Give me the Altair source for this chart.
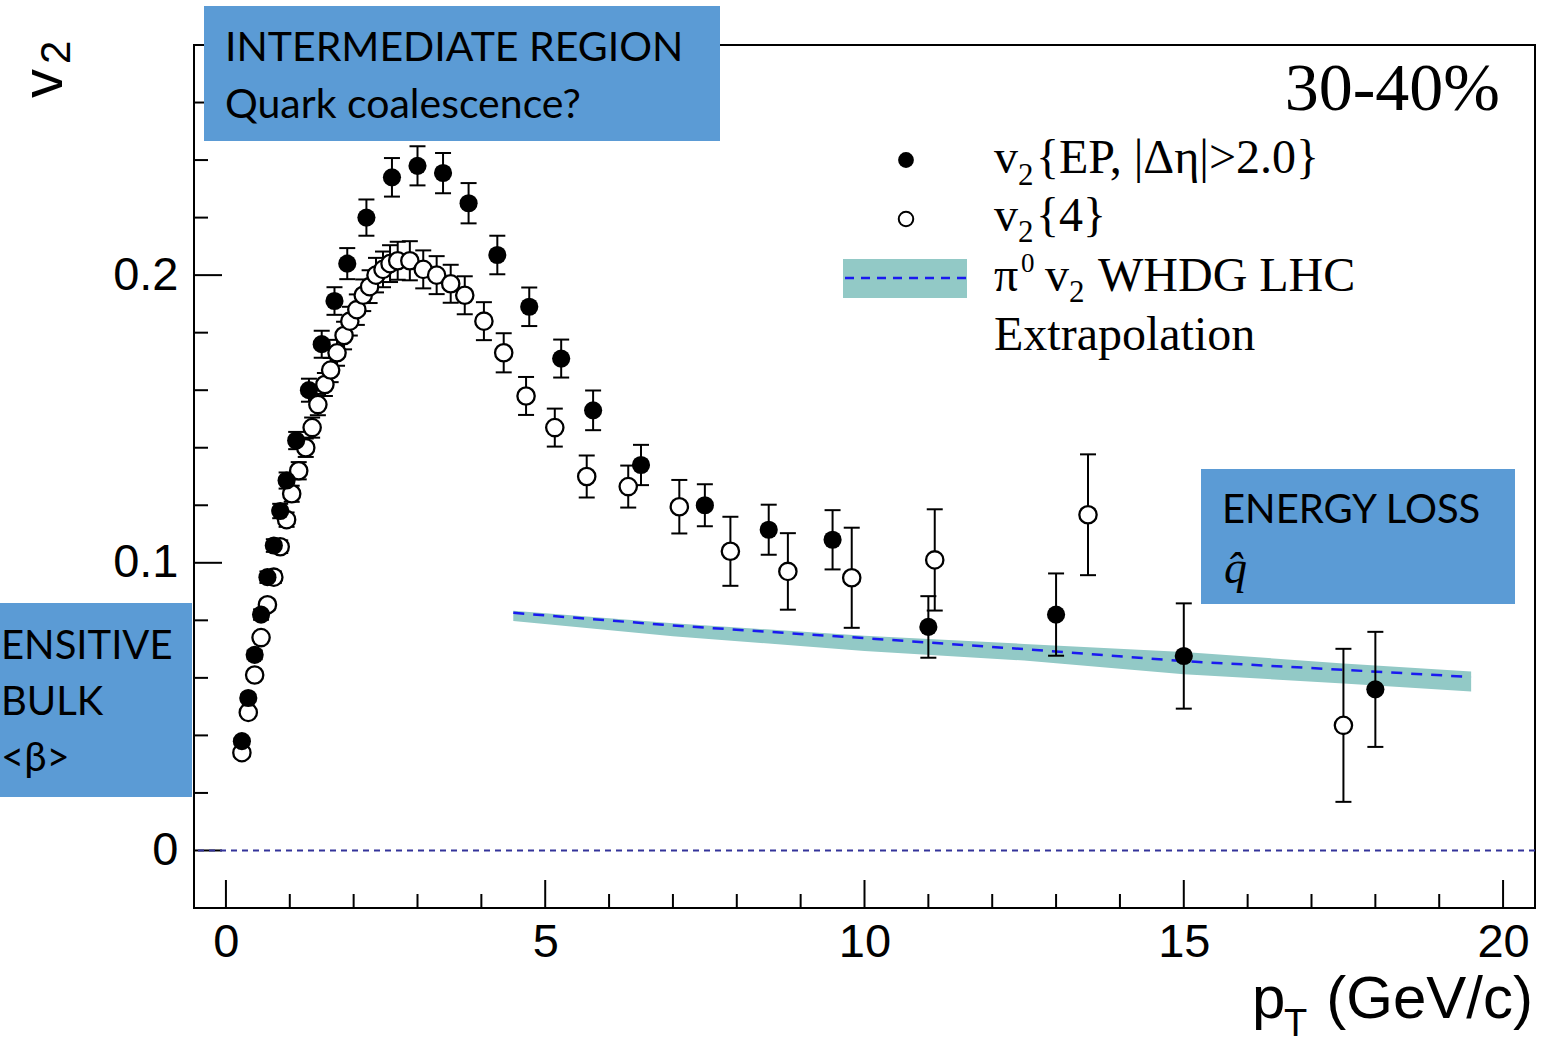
import altair as alt
import pandas as pd

# ---------------- data ----------------
# v2{EP, |d eta|>2.0}  (filled)
ep_pt = [0.25, 0.35, 0.45, 0.55, 0.65, 0.75, 0.85, 0.95, 1.1, 1.3, 1.5, 1.7, 1.9, 2.2,
         2.6, 3.0, 3.4, 3.8, 4.25, 4.75, 5.25, 5.75, 6.5, 7.5, 8.5, 9.5, 11.0, 13.0, 15.0, 18.0]
ep_v2 = [0.038, 0.053, 0.068, 0.082, 0.095, 0.106, 0.118, 0.1286, 0.1425, 0.160, 0.176, 0.191,
         0.204, 0.220, 0.234, 0.238, 0.2355, 0.225, 0.207, 0.189, 0.171, 0.153, 0.134, 0.120,
         0.1115, 0.108, 0.0777, 0.082, 0.0676, 0.056]
ep_err = [0.001, 0.0012, 0.0015, 0.0018, 0.002, 0.0022, 0.0025, 0.0028, 0.003, 0.004, 0.0047,
          0.0048, 0.0054, 0.0063, 0.0067, 0.0068, 0.007, 0.007, 0.0067, 0.0067, 0.0066, 0.0069,
          0.007, 0.0073, 0.0087, 0.0103, 0.0107, 0.0143, 0.0183, 0.020]

# v2{4}  (open)
c4_pt = [0.25, 0.35, 0.45, 0.55, 0.65, 0.75, 0.85, 0.95, 1.03, 1.14, 1.25, 1.35, 1.44, 1.55,
         1.64, 1.74, 1.85, 1.94, 2.05, 2.15, 2.25, 2.35, 2.46, 2.57, 2.69, 2.88, 3.09, 3.30,
         3.52, 3.74, 4.04, 4.35, 4.70, 5.15, 5.65, 6.3, 7.1, 7.9, 8.8, 9.8, 11.1, 13.5, 17.5]
c4_v2 = [0.034, 0.048, 0.061, 0.074, 0.0854, 0.095, 0.1056, 0.115, 0.124, 0.132, 0.140, 0.147,
         0.155, 0.162, 0.167, 0.173, 0.179, 0.184, 0.188, 0.193, 0.196, 0.200, 0.202, 0.204,
         0.205, 0.205, 0.202, 0.200, 0.197, 0.193, 0.184, 0.173, 0.158, 0.147, 0.130, 0.1265,
         0.1195, 0.104, 0.097, 0.0948, 0.101, 0.1167, 0.0435]
c4_err = [0.001, 0.0012, 0.0014, 0.0016, 0.0018, 0.002, 0.0022, 0.0025, 0.0028, 0.003, 0.0032,
          0.0035, 0.0037, 0.004, 0.0042, 0.0045, 0.0048, 0.005, 0.0053, 0.0055, 0.0057, 0.006,
          0.0062, 0.0064, 0.0066, 0.0068, 0.0066, 0.0066, 0.0066, 0.0066, 0.0066, 0.0068,
          0.0066, 0.0066, 0.0073, 0.0073, 0.0093, 0.012, 0.0133, 0.0174, 0.0176, 0.021, 0.0266]

# pi0 v2 WHDG LHC extrapolation
whdg_pt = [4.5, 7.0, 10.0, 12.5, 15.0, 17.5, 19.5]
whdg_lo = [0.0798, 0.0745, 0.0693, 0.0660, 0.0613, 0.0580, 0.0553]
whdg_hi = [0.0833, 0.0790, 0.0746, 0.0718, 0.0690, 0.0650, 0.0622]
whdg_mid = [0.0826, 0.0782, 0.0738, 0.0700, 0.0658, 0.0628, 0.0603]

x_major = [0, 5, 10, 15, 20]
x_minor = [1, 2, 3, 4, 6, 7, 8, 9, 11, 12, 13, 14, 16, 17, 18, 19]
y_major = [0, 0.1, 0.2]
y_minor = [0.02, 0.04, 0.06, 0.08, 0.12, 0.14, 0.16, 0.18, 0.22, 0.24, 0.26]

# ---------------- layout ----------------
W, H = 1341, 863
OX, OY = 194, 45
SANS = "Liberation Sans"
SERIF = "Liberation Serif"
BOXF = "Lato"
BLUEBOX = "#5b9bd5"
TEAL = "#92c9c6"

ep = pd.DataFrame({"pt": ep_pt, "v2": ep_v2,
                   "lo": [v - e for v, e in zip(ep_v2, ep_err)],
                   "hi": [v + e for v, e in zip(ep_v2, ep_err)]})
c4 = pd.DataFrame({"pt": c4_pt, "v2": c4_v2,
                   "lo": [v - e for v, e in zip(c4_v2, c4_err)],
                   "hi": [v + e for v, e in zip(c4_v2, c4_err)]})
wh = pd.DataFrame({"pt": whdg_pt, "lo": whdg_lo, "hi": whdg_hi, "mid": whdg_mid})
one = pd.DataFrame({"k": [0]})

xs = alt.Scale(domain=[-0.5, 20.5], nice=False, zero=False)
ys = alt.Scale(domain=[-0.02, 0.28], nice=False, zero=False)

xaxis = alt.Axis(values=x_major, tickSize=0, ticks=False, domain=False, grid=False,
                 labelFont=SANS, labelFontSize=47, labelColor="black", labelPadding=11,
                 title=None, labelFlush=False, labelOverlap=False)
yaxis = alt.Axis(values=y_major, tickSize=0, ticks=False, domain=False, grid=False,
                 labelFont=SANS, labelFontSize=47, labelColor="black", labelPadding=16,
                 title=None, format="~g", labelFlush=False, labelOverlap=False)


def X(f):
    return alt.X(f, type="quantitative", scale=xs, axis=xaxis)


def Y(f):
    return alt.Y(f, type="quantitative", scale=ys, axis=yaxis)


def T(s, x, y, size, font=SERIF, align="left", angle=None, style=None, color="black"):
    m = dict(text=s, fontSize=size, font=font, align=align, baseline="alphabetic", color=color)
    if angle is not None:
        m["angle"] = angle
    if style is not None:
        m["fontStyle"] = style
    return alt.Chart(one).mark_text(**m).encode(x=alt.value(x - OX), y=alt.value(y - OY))


def R(x1, y1, x2, y2, color):
    return alt.Chart(one).mark_rect(color=color, opacity=1).encode(
        x=alt.value(x1 - OX), x2=alt.value(x2 - OX), y=alt.value(y1 - OY), y2=alt.value(y2 - OY))


layers = []

# inward ticks (axes carry labels only)
layers.append(alt.Chart(pd.DataFrame({"v": x_major})).mark_rule(color="black", strokeWidth=2).encode(
    x=X("v"), y=alt.value(H), y2=alt.value(H - 28)))
layers.append(alt.Chart(pd.DataFrame({"v": x_minor})).mark_rule(color="black", strokeWidth=2).encode(
    x=X("v"), y=alt.value(H), y2=alt.value(H - 14)))
layers.append(alt.Chart(pd.DataFrame({"v": y_major})).mark_rule(color="black", strokeWidth=2).encode(
    y=Y("v"), x=alt.value(0), x2=alt.value(28)))
layers.append(alt.Chart(pd.DataFrame({"v": y_minor})).mark_rule(color="black", strokeWidth=2).encode(
    y=Y("v"), x=alt.value(0), x2=alt.value(14)))

# zero line
layers.append(alt.Chart(pd.DataFrame({"v": [0]})).mark_rule(
    color="#33339a", strokeWidth=2, strokeDash=[6, 5]).encode(y=Y("v")))

# WHDG band + dashed central line
layers.append(alt.Chart(wh).mark_area(color=TEAL, opacity=1).encode(x=X("pt"), y=Y("lo"), y2="hi:Q"))
layers.append(alt.Chart(wh).mark_line(color="#1a1af0", strokeWidth=2.5, strokeDash=[11, 9]).encode(
    x=X("pt"), y=Y("mid")))

# error bars
for df in (c4, ep):
    layers.append(alt.Chart(df).mark_rule(color="black", strokeWidth=2).encode(
        x=X("pt"), y=Y("lo"), y2="hi:Q"))
    for f in ("lo", "hi"):
        layers.append(alt.Chart(df).mark_tick(orient="horizontal", size=16, thickness=2,
                                              color="black", opacity=1).encode(x=X("pt"), y=Y(f)))

# points
layers.append(alt.Chart(c4).mark_circle(fill="white", stroke="black", strokeWidth=2.3,
                                        size=300, opacity=1).encode(x=X("pt"), y=Y("v2")))
layers.append(alt.Chart(ep).mark_circle(color="black", size=330, opacity=1).encode(
    x=X("pt"), y=Y("v2")))

# ---------------- legend ----------------
layers.append(alt.Chart(one).mark_circle(color="black", size=250, opacity=1).encode(
    x=alt.value(906 - OX), y=alt.value(160 - OY)))
layers.append(alt.Chart(one).mark_circle(fill="white", stroke="black", strokeWidth=2,
                                         size=210, opacity=1).encode(
    x=alt.value(906 - OX), y=alt.value(219 - OY)))
layers.append(R(843, 259, 967, 298, TEAL))
layers.append(alt.Chart(one).mark_rule(color="#1a1af0", strokeWidth=2.5, strokeDash=[9, 7]).encode(
    x=alt.value(845 - OX), x2=alt.value(967 - OX), y=alt.value(278 - OY)))

LS = 48
SUB = 31
layers += [
    T("v", 994, 173, LS), T("2", 1018, 185, SUB), T("{EP, |Δη|>2.0}", 1036, 173, LS),
    T("v", 994, 231, LS), T("2", 1018, 242, SUB), T("{4}", 1036, 231, LS),
    T("π", 994, 291, LS), T("0", 1021, 272, 27), T("v", 1045, 291, LS), T("2", 1069, 302, SUB),
    T("WHDG LHC", 1098, 291, LS),
    T("Extrapolation", 994, 350, LS),
    T("30-40%", 1500, 110, 68, align="right"),
]

# axis titles
layers += [
    T("v", 62, 98, 58, font=SANS, angle=270),
    T("2", 70, 64, 42, font=SANS, angle=270),
    T("p", 1252, 1018, 60, font=SANS),
    T("T", 1284, 1036, 38, font=SANS),
    T("(GeV/c)", 1533, 1018, 60, font=SANS, align="right"),
]

# ---------------- annotation boxes ----------------
layers += [
    R(204, 6, 720, 141, BLUEBOX),
    T("INTERMEDIATE REGION", 225, 61, 41, font=BOXF),
    T("Quark coalescence?", 225, 118, 41, font=BOXF),
    R(1201, 469, 1515, 604, BLUEBOX),
    T("ENERGY LOSS", 1222, 523, 40, font=BOXF),
    T("q\u0302", 1224, 583, 46, font=SERIF, style="italic"),
    R(0, 603, 192, 797, BLUEBOX),
    T("ENSITIVE", 1, 659, 40, font=BOXF),
    T("BULK", 1, 715, 40, font=BOXF),
    T("<β>", 1, 771, 40, font=BOXF),
]

chart = alt.layer(*layers).properties(
    width=W, height=H,
    padding={"left": OX, "top": OY, "right": 1550 - OX - W, "bottom": 1045 - OY - H},
    autosize=alt.AutoSizeParams(type="none"),
    background="white",
).configure_view(stroke="black", strokeWidth=2)

chart.save("out.html", embed_options={"renderer": "svg", "actions": False})
